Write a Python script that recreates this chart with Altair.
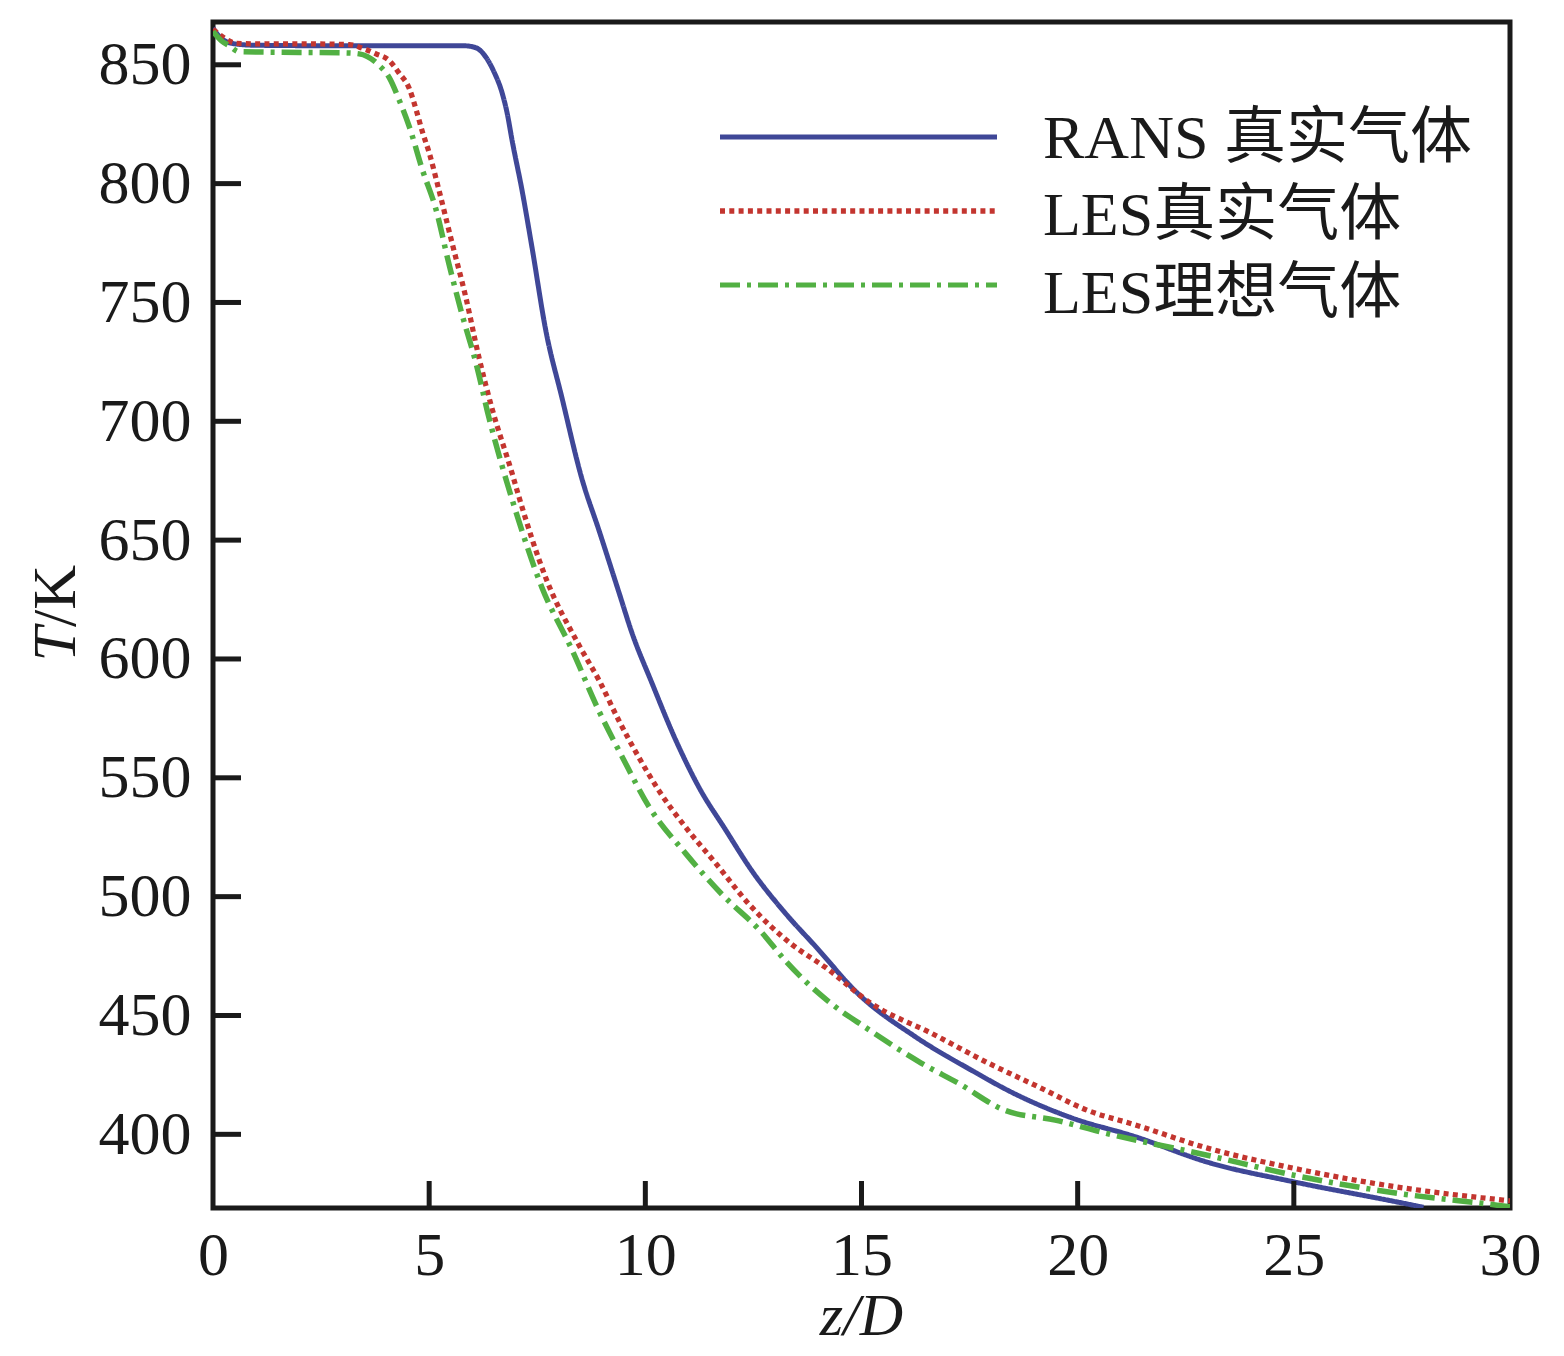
import altair as alt
import pandas as pd

# ---------------- data ----------------
series_names = ["RANS 真实气体", "LES真实气体", "LES理想气体"]

rans_z = [0, 0.2, 0.5, 1, 3, 5.5, 5.8, 6.0, 6.15, 6.32, 6.5, 6.69, 6.8, 6.92, 7.15, 7.38, 7.7,
          8.07, 8.53, 8.93, 9.39, 9.69, 10.15, 10.7, 11.24, 11.86, 12.46, 13.24,
          13.94, 14.93, 16.25, 17.54, 18.55, 19.85, 21.33, 23.0, 25.0, 27.4, 28.0]
rans_T = [865.5, 861, 858.8, 858.2, 858, 858, 858, 857.6, 856.5, 853, 847, 838, 830, 818, 797, 773, 738,
          710, 676, 654, 628, 611, 590, 566, 546, 528, 511, 493,
          479, 459, 441, 427, 417, 407, 399, 388.3, 380, 371.5, 369.3]

les_real_z = [0, 0.2, 0.55, 1, 2, 3.15, 3.45, 3.77, 4.08, 4.3, 4.54, 4.7, 4.84, 5.0, 5.23,
              5.53, 5.85, 6.15, 6.46, 6.92, 7.08, 7.7, 8.46, 8.93, 9.39, 9.85, 10.31,
              10.94, 11.63, 12.39, 13.38, 14.16, 15.23, 16.62, 17.93, 19.09, 20.24,
              21.33, 23.0, 25.0, 27.4, 30.0]
les_real_T = [865, 862, 859, 858.8, 858.8, 858.5, 857, 854.6, 851.7, 846.6, 840, 831, 822, 813, 797,
              775, 752, 727, 705, 678, 668, 634, 606, 591, 574, 558.6, 544.7,
              529, 514, 497, 480, 470.3, 455, 442.5, 430, 420, 410,
              404, 394.2, 385.7, 377.8, 372]

les_ideal_z = [0, 0.2, 0.38, 0.6, 2, 3.08, 3.38, 3.85, 4.08, 4.31, 4.54, 4.84, 5.16, 5.46,
               5.76, 6.09, 6.39, 6.69, 6.92, 7.61, 8.3, 8.93, 9.46, 10.08, 10.94, 11.77,
               12.69, 13.24, 14.3, 15.09, 16.38, 17.24, 18.33, 19.48, 20.64, 23.0, 25.0,
               27.4, 29.7, 30.0]
les_ideal_T = [864, 860, 858, 855.5, 855.2, 855, 854.6, 849.6, 844.5, 835, 824, 806, 789, 766,
               745, 724, 701, 681, 667, 630, 604, 578, 559, 538, 518, 501,
               485, 473, 455, 445, 430, 421.5, 410, 406, 400.5, 391.2, 382.8,
               375.2, 370.2, 369.5]

x_ticks = [5, 10, 15, 20, 25]
x_labels = [0, 5, 10, 15, 20, 25, 30]
y_ticks = [400, 450, 500, 550, 600, 650, 700, 750, 800, 850]

colors = ["#3F4797", "#C3352F", "#52B043"]
dashes = [[1, 0], [5, 4.3], [20, 7, 4, 7]]
widths = [5, 5.5, 5]

# ---------------- tables ----------------
rows = []
for name, zs, ts in [(series_names[0], rans_z, rans_T),
                     (series_names[1], les_real_z, les_real_T),
                     (series_names[2], les_ideal_z, les_ideal_T)]:
    for i, (z, t) in enumerate(zip(zs, ts)):
        rows.append({"series": name, "z": z, "T": t, "order": i})
df = pd.DataFrame(rows)

W, H = 1297, 1186
FONT = "'Liberation Serif', 'Times New Roman', 'Noto Sans CJK SC', serif"
FS = 62
INK = "#1a1a1a"

xscale = alt.Scale(domain=[0, 30], nice=False, zero=False)
yscale = alt.Scale(domain=[369, 868], nice=False, zero=False)

lines = alt.Chart(df).mark_line(clip=True, interpolate="monotone",
                                strokeCap="butt").encode(
    x=alt.X("z:Q", scale=xscale,
            axis=alt.Axis(values=x_labels, title=None, grid=False, ticks=False,
                          domain=False, labelFont=FONT, labelFontSize=FS,
                          labelColor=INK, labelPadding=17, labelFlush=False,
                          labelOverlap=False, format="d")),
    y=alt.Y("T:Q", scale=yscale,
            axis=alt.Axis(values=y_ticks, title=None, grid=False, ticks=False,
                          domain=False, labelFont=FONT, labelFontSize=FS,
                          labelColor=INK, labelPadding=22, labelFlush=False,
                          labelOverlap=False, format="d")),
    color=alt.Color("series:N", scale=alt.Scale(domain=series_names, range=colors),
                    legend=None),
    strokeDash=alt.StrokeDash("series:N",
                              scale=alt.Scale(domain=series_names, range=dashes),
                              legend=None),
    strokeWidth=alt.StrokeWidth("series:N",
                                scale=alt.Scale(domain=series_names, range=widths),
                                legend=None),
    order="order:Q",
)

# inward ticks
xt = alt.Chart(pd.DataFrame({"v": x_ticks})).mark_rule(color=INK, strokeWidth=5).encode(
    x=alt.X("v:Q", scale=xscale),
    y=alt.value(H),
    y2=alt.value(H - 27),
)
yt = alt.Chart(pd.DataFrame({"v": y_ticks})).mark_rule(color=INK, strokeWidth=5).encode(
    y=alt.Y("v:Q", scale=yscale),
    x=alt.value(0),
    x2=alt.value(28),
)

# legend (manual)
one = pd.DataFrame({"a": [0]})
legend_layers = []
line_y = [115, 189, 263]
text_y = [136, 213, 291]
for i, name in enumerate(series_names):
    legend_layers.append(
        alt.Chart(one).mark_rule(color=colors[i], strokeWidth=widths[i],
                                 strokeDash=dashes[i], strokeCap="butt").encode(
            x=alt.value(507), x2=alt.value(784), y=alt.value(line_y[i]))
    )
    legend_layers.append(
        alt.Chart(one).mark_text(text=name, font=FONT, fontSize=FS, color=INK,
                                 align="left", baseline="alphabetic").encode(
            x=alt.value(830), y=alt.value(text_y[i]))
    )

# axis titles
ttl_T = alt.Chart(one).mark_text(text="T", font=FONT, fontSize=62, fontStyle="italic",
                                 color=INK, angle=270, align="right",
                                 baseline="alphabetic").encode(
    x=alt.value(-138), y=alt.value(605))
ttl_K = alt.Chart(one).mark_text(text="/K", font=FONT, fontSize=62, color=INK,
                                 angle=270, align="left",
                                 baseline="alphabetic").encode(
    x=alt.value(-138), y=alt.value(605))
ttl_x = alt.Chart(one).mark_text(text="z/D", font=FONT, fontSize=60, fontStyle="italic",
                                 color=INK, align="center",
                                 baseline="alphabetic").encode(
    x=alt.value(W / 2), y=alt.value(1313))

chart = alt.layer(lines, xt, yt, *legend_layers, ttl_T, ttl_K, ttl_x).properties(
    width=W, height=H,
    padding={"left": 205, "top": 14, "right": 46, "bottom": 140},
    autosize=alt.AutoSizeParams(type="none"),
    background="white",
).configure_view(stroke=INK, strokeWidth=5)

chart.save("out.html", embed_options={"renderer": "svg", "actions": False})
